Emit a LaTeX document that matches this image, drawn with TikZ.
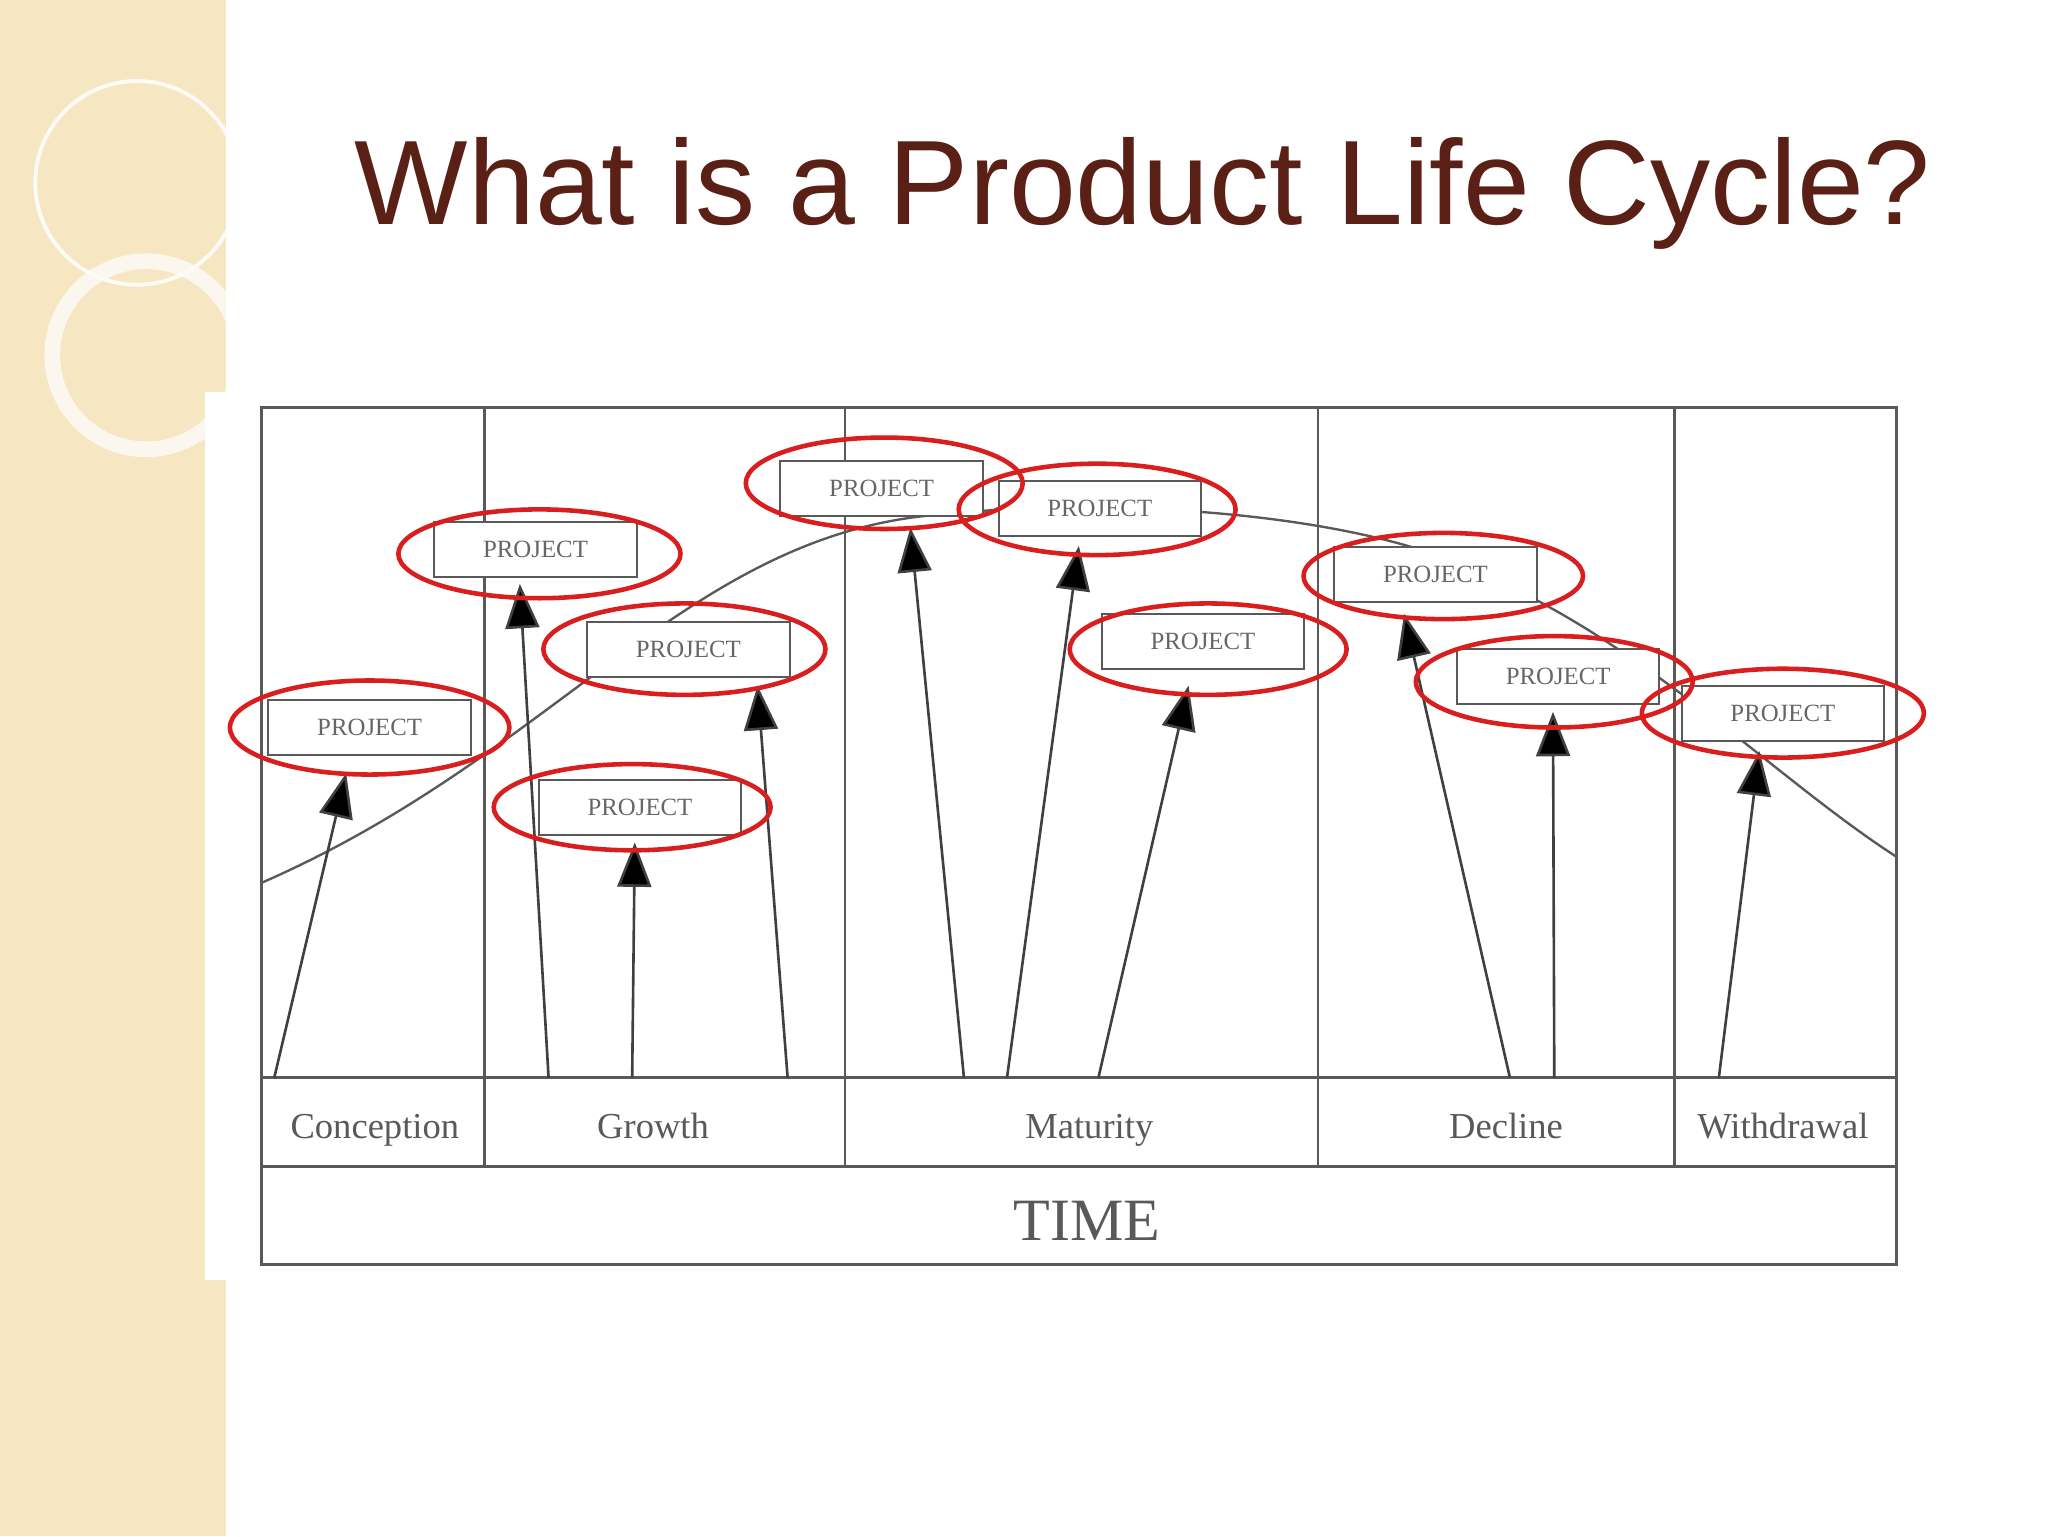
\documentclass[tikz,border=0pt]{standalone}
\usepackage{fontspec}
\setmainfont{Liberation Sans}
\newfontfamily\serifd{Liberation Serif}
\usetikzlibrary{arrows.meta}
\definecolor{titlec}{HTML}{5A2016}
\definecolor{band}{HTML}{F6E6C2}
\definecolor{ered}{HTML}{D81E1E}
\begin{document}
\begin{tikzpicture}[x=1pt,y=-1pt,
  proj/.style={draw=black!65,line width=1.5pt,fill=white,minimum width=155pt,minimum height=42pt,inner sep=0pt,font=\serifd\fontsize{19}{19}\selectfont,text=black!60},
  ring/.style={draw=ered,line width=3.5pt},
  arr/.style={black!75,line width=2pt,-{Triangle[length=34pt,width=26pt,fill=black]}},
  frame/.style={black!65,line width=2pt},
  stage/.style={anchor=base,font=\serifd\fontsize{28}{28}\selectfont,text=black!65}]
\useasboundingbox (0,0) rectangle (1568,1176);
\fill[white] (0,0) rectangle (1568,1176);
\fill[band] (0,0) rectangle (173,1176);
\draw[white,line width=3pt,opacity=0.85] (105,140) circle [radius=78];
\draw[white!85!band,line width=12pt,opacity=0.85] (112,272) circle [radius=72];
\fill[white] (157,300) rectangle (1568,980);
\fill[white] (173,0) rectangle (1568,1176);
\node[font=\fontsize{92}{92}\selectfont,text=titlec] (title) at (875,148) {What is a Product Life Cycle?};
% frame
\draw[frame] (200,312) rectangle (1452,968);
\draw[frame] (200,825) -- (1452,825);
\draw[frame] (200,893) -- (1452,893);
\foreach \x in {371,647,1009,1282} \draw[frame] (\x,312) -- (\x,893);
\node[stage] (s1) at (287,872) {Conception};
\node[stage] (s2) at (500,872) {Growth};
\node[stage] (s3) at (834,872) {Maturity};
\node[stage] (s4) at (1153,872) {Decline};
\node[stage] (s5) at (1365,872) {Withdrawal};
\node[stage,font=\serifd\fontsize{46}{46}\selectfont] (time) at (832,950) {TIME};
% curve
\draw[black!65,line width=1.8pt] (200,676) .. controls (420,580) and (520,420) .. (700,396)
  .. controls (830,380) and (1000,390) .. (1100,425)
  .. controls (1250,480) and (1350,590) .. (1452,656);
% projects
\foreach \n/\bx/\by/\sx/\tx/\ty in {
 1/283/557/210/265/592,
 2/410/421/420/398/447,
 3/527/497/603/580/525,
 4/490/618/484/486/645,
 5/675/374/738/697/404,
 6/842/389/771/826/418,
 7/921/491/841/910/525,
 8/1099/440/1156/1075/470,
 9/1193/518/1190/1189/545,
 10/1365/546/1316/1347/575}{
  \coordinate (a\n) at (\sx,825);
  \coordinate (t\n) at (\tx,\ty);
  \node[proj] (p\n) at (\bx,\by) {PROJECT};
  \draw[arr] (a\n) -- (t\n);
}
\foreach \n/\ex/\ey/\rx/\ry in {1/283/557/107/36,2/413/424/108/34,3/524/497/108/35,4/484/618/106/33,5/677/370/106/35,6/840/390/106/35,7/925/497/106/35,8/1105/441/107/33,9/1190/522/106/35,10/1365/546/108/34}
  \draw[ring] (\ex,\ey) ellipse [x radius=\rx,y radius=\ry];
\end{tikzpicture}
\end{document}
